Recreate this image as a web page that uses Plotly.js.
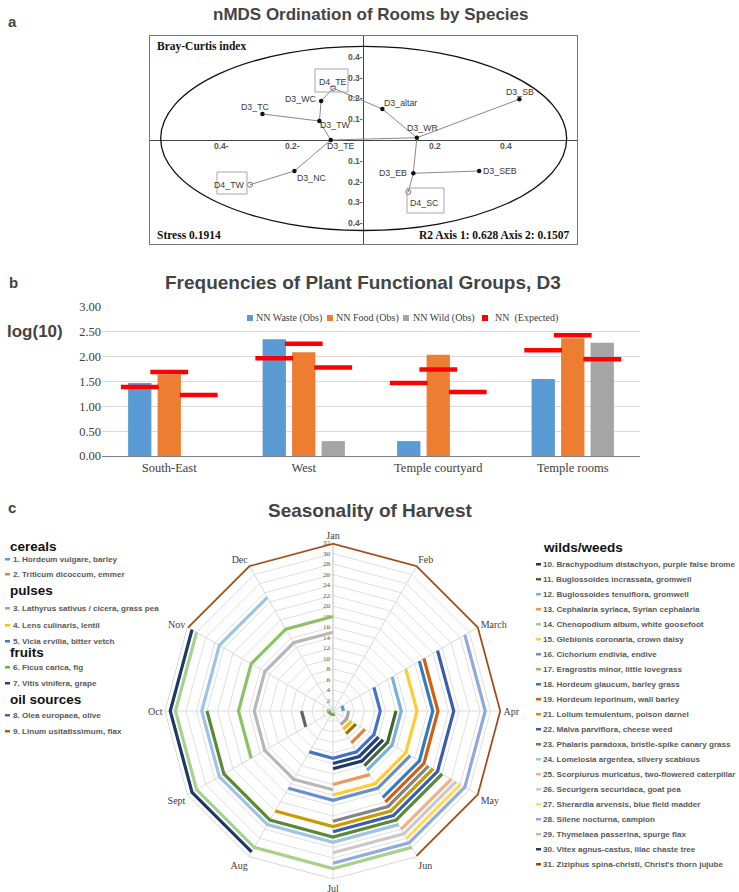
<!DOCTYPE html>
<html><head><meta charset="utf-8">
<script src="https://cdn.plot.ly/plotly-3.0.1.min.js"></script>
<style>html,body{margin:0;padding:0;background:#fff}#chart{width:739px;height:892px}</style>
</head><body><div id="chart"></div>
<script>
const W=739,H=892;
const SANS="Liberation Sans, Arial, sans-serif";
const SERIF="Liberation Serif, Times New Roman, serif";

// ---------- Panel a data (nMDS) ----------
const sites=["D4_TE","D3_WC","D3_TC","D3_TW","D3_TE","D3_NC","D4_TW","D3_altar","D3_WR","D3_SB","D3_EB","D3_SEB","D4_SC"];
const axis1=[-0.085,-0.119,-0.284,-0.124,-0.092,-0.194,-0.319,0.053,0.150,0.438,0.140,0.325,0.126];
const axis2=[0.249,0.188,0.125,0.091,0.000,-0.149,-0.215,0.149,0.011,0.196,-0.160,-0.149,-0.250];
const links=[["D3_TC","D3_TW"],["D3_WC","D3_TW"],["D3_WC","D4_TE"],["D4_TE","D3_altar"],["D3_TW","D3_TE"],["D3_TE","D3_NC"],["D3_NC","D4_TW"],["D3_TE","D3_WR"],["D3_altar","D3_WR"],["D3_WR","D3_SB"],["D3_WR","D3_EB"],["D3_EB","D4_SC"],["D3_EB","D3_SEB"]];
const ellipseX=[-0.570,0.571];
const ellipseY=[-0.435,0.450];
const xTickVals=[-0.4,-0.2,0.2,0.4];
const xTickText=["0.4-","0.2-","0.2","0.4"];
const yTickVals=[0.4,0.3,0.2,0.1,-0.1,-0.2,-0.3,-0.4];
const yTickText=["0.4-","0.3-","0.2-","0.1-","0.1-","0.2-","0.3-","0.4-"];

// ---------- Panel b data ----------
const regions=["South-East","West","Temple courtyard","Temple rooms"];
const wasteObs=[1.47,2.35,0.30,1.55];
const foodObs=[1.64,2.09,2.04,2.37];
const wildObs=[0,0.30,0,2.28];
const wasteExp=[1.39,1.97,1.47,2.13];
const foodExp=[1.69,2.26,1.74,2.43];
const wildExp=[1.23,1.78,1.29,1.95];
const barNames=["NN Waste (Obs)","NN Food (Obs)","NN Wild (Obs)"];
const expName="NN  (Expected)";

// ---------- Panel c data ----------
const months=["Jan","Feb","March","Apr","May","Jun","Jul","Aug","Sept","Oct","Nov","Dec"];
const radialTicks=[0,2,4,6,8,10,12,14,16,18,20,22,24,26,28,30,32];
const species=[
"1. Hordeum vulgare, barley","2. Triticum dicoccum, emmer","3. Lathyrus sativus / cicera, grass pea","4. Lens culinaris, lentil","5. Vicia ervilia, bitter vetch",
"6. Ficus carica, fig","7. Vitis vinifera, grape","8. Olea europaea, olive","9. Linum usitatissimum, flax",
"10. Brachypodium distachyon, purple false brome","11. Buglossoides incrassata, gromwell","12. Buglossoides tenuiflora, gromwell","13. Cephalaria syriaca, Syrian cephalaria","14. Chenopodium album, white goosefoot","15. Glebionis coronaria, crown daisy","16. Cichorium endivia, endive","17. Eragrostis minor, little lovegrass","18. Hordeum glaucum, barley grass","19. Hordeum leporinum, wall barley","",
"21. Lolium temulentum, poison darnel","22. Malva parviflora, cheese weed","23. Phalaris paradoxa, bristle-spike canary grass","24. Lomelosia argentea, silvery scabious","25. Scorpiurus muricatus, two-flowered caterpillar","26. Securigera securidaca, goat pea","27. Sherardia arvensis, blue field madder","28. Silene nocturna, campion","29. Thymelaea passerina, spurge flax","30. Vitex agnus-castus, lilac chaste tree","31. Ziziphus spina-christi, Christ's thorn jujube"];
const speciesColor=["#5B9BD5","#ED7D31","#A5A5A5","#FFC000","#4472C4","#70AD47","#264478","#636363","#997300",
"#203864","#43682B","#7CAFDD","#F1975A","#B7B7B7","#FFCD33","#698ED0","#8CC168","#327DC2","#D26012","#848484",
"#CC9A00","#3A5DAE","#5A8A39","#9DC3E6","#F4B183","#C9C9C9","#FFD966","#8FAADC","#A9D18E","#1F3864","#9E480E"];
const speciesValue=[2,7,3,4,9,0.7,10,6,5,11,12,13,14,15,16,17,18,19,20,21,22,23,24,25,26,27,28,29,30,31,32];
const harvestMonths=[
["March","Apr"],["May","Jun"],["Apr","May","Jun"],["May","Jun"],["March","Apr","May","Jun","Jul","Aug"],
["Jun","Jul","Aug","Sept","Oct"],["May","Jun","Jul"],["Sept","Oct"],["May","Jun"],
["May","Jun","Jul"],["Apr","May","Jun"],["March","Apr","May","Jun"],["Jun","Jul"],["Jul","Aug","Sept","Oct","Nov","Dec","Jan"],["March","Apr","May","Jun","Jul"],["May","Jun","Jul","Aug"],["Sept","Oct","Nov","Dec","Jan"],["March","Apr","May","Jun"],["March","Apr","May","Jun"],["May","Jun","Jul"],
["May","Jun","Jul","Aug"],["March","Apr","May","Jun","Jul"],["May","Jun","Jul","Aug","Sept","Oct"],["Jun","Jul","Aug","Sept","Oct","Nov","Dec"],["May","Jun"],["May","Jun","Jul"],["May","Jun"],["March","Apr","May","Jun","Jul"],["Jun","Jul","Aug","Sept","Oct","Nov"],["Aug","Sept","Oct","Nov"],["Nov","Dec","Jan","Feb","March","Apr","May","Jun"]];
const legendGroupsLeft=[["cereals",[0,1]],["pulses",[2,3,4]],["fruits",[5,6]],["oil sources",[7,8]]];
const legendGroupRight=["wilds/weeds",[9,10,11,12,13,14,15,16,17,18,20,21,22,23,24,25,26,27,28,29,30]];

// ---------- helpers ----------
const px=x=>x/W, py=y=>1-y/H;
const annotations=[], shapes=[], traces=[];
function txt(x,y,text,o){annotations.push(Object.assign({xref:'paper',yref:'paper',x:px(x),y:py(y),text:text,showarrow:false,xanchor:'center',yanchor:'middle',font:{family:SANS,size:12,color:'#000'}},o||{}));}
function rect(x0,y0,x1,y1,o){shapes.push(Object.assign({type:'rect',xref:'paper',yref:'paper',x0:px(x0),x1:px(x1),y0:py(y1),y1:py(y0),line:{width:0}},o||{}));}

// ---------- Panel a ----------
const idx=n=>sites.indexOf(n);
links.forEach(l=>{const a=idx(l[0]),b=idx(l[1]);
 traces.push({type:'scatter',mode:'lines',x:[axis1[a],axis1[b]],y:[axis2[a],axis2[b]],line:{color:'#8a8a8a',width:1},xaxis:'x',yaxis:'y',showlegend:false,hoverinfo:'skip'});});
const isD4=sites.map(s=>s.startsWith('D4'));
traces.push({type:'scatter',mode:'markers',x:axis1.filter((v,i)=>!isD4[i]),y:axis2.filter((v,i)=>!isD4[i]),marker:{color:'#111',size:4.5},xaxis:'x',yaxis:'y',showlegend:false});
traces.push({type:'scatter',mode:'markers',x:axis1.filter((v,i)=>isD4[i]),y:axis2.filter((v,i)=>isD4[i]),marker:{color:'#777',size:5,symbol:'circle-open',line:{width:1}},xaxis:'x',yaxis:'y',showlegend:false});
const labelPlace={D4_TE:['center',0,6],D3_WC:['right',-3,2],D3_TC:['center',-7,7],D3_TW:['left',-1,-4],D3_TE:['left',-6,-6],D3_NC:['left',1,-7],D4_TW:['right',-3,0],D3_altar:['left',0,6],D3_WR:['center',6,10],D3_SB:['center',1,7],D3_EB:['right',-4,0],D3_SEB:['left',2,0],D4_SC:['center',16,-11]};
sites.forEach((s,i)=>{const p=labelPlace[s];
 annotations.push({xref:'x',yref:'y',x:axis1[i],y:axis2[i],text:s,showarrow:false,xanchor:p[0],yanchor:'middle',xshift:p[1],yshift:p[2],font:{family:SANS,size:8.8,color:'#3a3a3a'}});});
rect(315,69,348,92,{line:{color:'#a6a6a6',width:1}});
rect(217,172,247,194,{line:{color:'#a6a6a6',width:1}});
rect(407,188,444,213,{line:{color:'#a6a6a6',width:1}});
shapes.push({type:'circle',xref:'x',yref:'y',x0:ellipseX[0],x1:ellipseX[1],y0:ellipseY[0],y1:ellipseY[1],line:{color:'#111',width:1.3}});
xTickVals.forEach((v,i)=>annotations.push({xref:'x',yref:'y',x:v,y:0,text:'<b>'+xTickText[i]+'</b>',showarrow:false,xanchor:'center',yanchor:'middle',yshift:-6,font:{family:SANS,size:8.5,color:'#555'}}));
yTickVals.forEach((v,i)=>annotations.push({xref:'x',yref:'y',x:0,y:v,text:'<b>'+yTickText[i]+'</b>',showarrow:false,xanchor:'right',yanchor:'middle',xshift:1,font:{family:SANS,size:8.5,color:'#555'}}));
txt(155,47,'<b>Bray-Curtis index</b>',{xanchor:'left',font:{family:SERIF,size:11.5,color:'#111'}});
txt(155,235,'<b>Stress 0.1914</b>',{xanchor:'left',font:{family:SERIF,size:11.5,color:'#111'}});
txt(571,235,'<b>R2 Axis 1: 0.628 Axis 2: 0.1507</b>',{xanchor:'right',font:{family:SERIF,size:11.5,color:'#111'}});
txt(12,22,'<b>a</b>',{font:{family:SANS,size:15}});
txt(370,14,'<b>nMDS Ordination of Rooms by Species</b>',{font:{family:SANS,size:17}});

// ---------- Panel b ----------
const barColors=["#5B9BD5","#ED7D31","#A5A5A5"];
const catX=regions.map((r,i)=>i);
[wasteObs,foodObs,wildObs].forEach((vals,k)=>traces.push({type:'bar',x:catX,y:vals,name:barNames[k],marker:{color:barColors[k]},xaxis:'x2',yaxis:'y2',showlegend:false}));
const bargap=0.342, slot=(1-bargap)/3;
[wasteExp,foodExp,wildExp].forEach((vals,k)=>traces.push({type:'scatter',mode:'markers',x:catX.map(c=>c+(k-1)*slot),y:vals,marker:{symbol:'line-ew',size:27,line:{color:'#FF0000',width:4.5}},xaxis:'x2',yaxis:'y2',showlegend:false,cliponaxis:false}));
const legItems=[[250,254,barNames[0],barColors[0]],[330,334,barNames[1],barColors[1]],[406,411,barNames[2],barColors[2]],[485,493,expName,'#FF0000']];
legItems.forEach(it=>{rect(it[0]-3,315,it[0]+3,321,{fillcolor:it[3]});txt(it[1],318,it[2],{xanchor:'left',font:{family:SERIF,size:10,color:'#404040'}});});
txt(13,282,'<b>b</b>',{font:{family:SANS,size:15}});
txt(363,282,'<b>Frequencies of Plant Functional Groups, D3</b>',{font:{family:SANS,size:19}});
txt(35,331,'<b>log(10)</b>',{font:{family:SANS,size:17}});

// ---------- Panel c ----------
species.forEach((nm,i)=>{const m=harvestMonths[i];
 traces.push({type:'scatterpolar',mode:'lines',theta:m,r:m.map(()=>speciesValue[i]),line:{color:speciesColor[i],width:3.2},subplot:'polar',showlegend:false,name:nm||'unnamed',connectgaps:false,cliponaxis:false});});
txt(12,507,'<b>c</b>',{font:{family:SANS,size:15}});
txt(370,510,'<b>Seasonality of Harvest</b>',{font:{family:SANS,size:19}});
const leftRowY=[[546,[559,574]],[590,[608,625,641]],[652,[667,683]],[699,[715,731]]];
legendGroupsLeft.forEach((g,gi)=>{txt(8,leftRowY[gi][0],'<b>'+g[0]+'</b>',{xanchor:'left',font:{family:SANS,size:13.5,color:'#111'}});
 g[1].forEach((si,j)=>{const y=leftRowY[gi][1][j];rect(5,y-1,10,y+1.5,{fillcolor:speciesColor[si]});txt(11,y,'<b>'+species[si]+'</b>',{xanchor:'left',font:{family:SANS,size:8.1,color:'#595959'}});});});
txt(541,547,'<b>'+legendGroupRight[0]+'</b>',{xanchor:'left',font:{family:SANS,size:13.5,color:'#111'}});
legendGroupRight[1].forEach((si,j)=>{const y=564+15*j;rect(536,y-1,541,y+1.5,{fillcolor:speciesColor[si]});txt(541,y,'<b>'+species[si]+'</b>',{xanchor:'left',font:{family:SANS,size:8.1,color:'#595959'}});});

const layout={width:W,height:H,margin:{l:0,r:0,t:0,b:0},paper_bgcolor:'#fff',plot_bgcolor:'#fff',showlegend:false,
 barmode:'group',bargap:bargap,bargroupgap:0.21,
 xaxis:{domain:[px(150),px(577)],range:[-0.6,0.6],showgrid:false,zeroline:true,zerolinecolor:'#444',zerolinewidth:1,showline:true,mirror:true,linecolor:'#777',linewidth:1,showticklabels:false,ticks:''},
 yaxis:{domain:[py(244),py(36)],range:[-0.5,0.5],showgrid:false,zeroline:true,zerolinecolor:'#444',zerolinewidth:1,showline:true,mirror:true,linecolor:'#777',linewidth:1,showticklabels:false,ticks:''},
 xaxis2:{domain:[px(102),px(640)],range:[-0.5,3.5],tickvals:catX,ticktext:regions,showgrid:false,zeroline:false,showline:true,linecolor:'#7f7f7f',linewidth:1,ticks:'',tickfont:{family:SERIF,size:12.5,color:'#404040'},anchor:'y2'},
 yaxis2:{domain:[py(456),py(307)],range:[0,3],dtick:0.5,tickformat:'.2f',showgrid:true,gridcolor:'#d9d9d9',zeroline:false,showline:false,ticks:'',tickfont:{family:SERIF,size:12.5,color:'#404040'},anchor:'x2'},
 polar:{domain:{x:[px(165),px(501)],y:[py(879),py(543)]},bgcolor:'#fff',gridshape:'linear',
  angularaxis:{type:'category',categoryarray:months,direction:'clockwise',rotation:90,showgrid:true,gridcolor:'#d9d9d9',showline:true,linecolor:'#d9d9d9',ticks:'',layer:'below traces',tickfont:{family:SERIF,size:10,color:'#404040'}},
  radialaxis:{range:[0,32],tickvals:radialTicks,angle:90,tickangle:90,showline:true,linecolor:'#d0d0d0',gridcolor:'#e0e0e0',ticks:'',layer:'below traces',side:'counterclockwise',tickfont:{family:SERIF,size:7,color:'#595959'}}},
 annotations:annotations,shapes:shapes};
Plotly.newPlot('chart',traces,layout,{staticPlot:true});
</script></body></html>
